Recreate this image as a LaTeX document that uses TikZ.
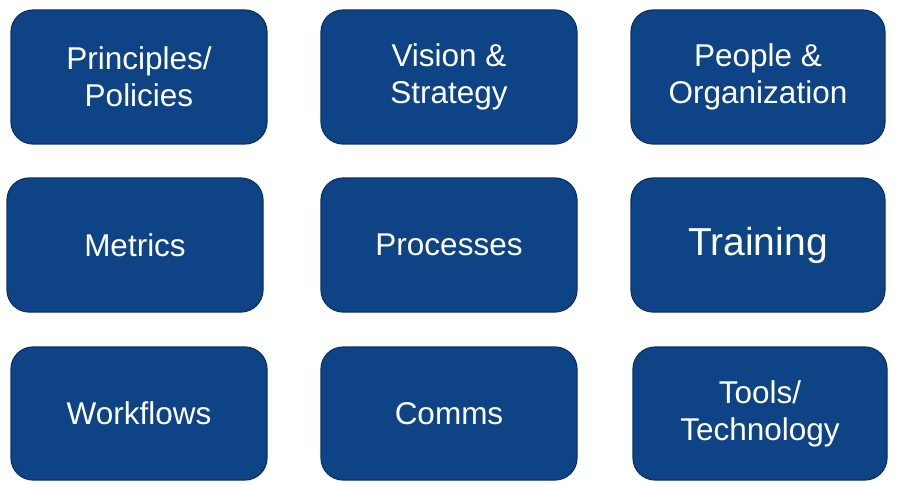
\documentclass[tikz,border=0pt]{standalone}
\usepackage{fontspec}
\setmainfont{Liberation Sans}
\begin{document}
\begin{tikzpicture}[x=1pt,y=-1pt,
  box/.style={draw=boxedge,line width=1.2pt,fill=boxblue,rounded corners=22pt,text=white,
    align=center,inner sep=0pt,font=\fontsize{31.5}{37}\selectfont}]
\definecolor{boxblue}{HTML}{0E4385}
\definecolor{boxedge}{HTML}{0A3366}
\useasboundingbox (0,0) rectangle (897,484);
\newcommand{\mybox}[6]{\node[box,minimum width=#3-#1,minimum height=#4-#2] (#5) at ({(#1+#3)/2},{(#2+#4)/2}) {#6};}
\mybox{11}{10}{267}{144}{pp}{Principles/\\Policies}
\mybox{321}{10}{577}{144}{vs}{Vision \&\\Strategy}
\mybox{631}{10}{885}{144}{po}{People \&\\Organization}
\mybox{7}{178}{263}{312}{me}{Metrics}
\mybox{321}{178}{577}{312}{pr}{Processes}
\node[box,minimum width=254,minimum height=134,font=\fontsize{39}{40}\selectfont] (tr) at (758,245) {Training};
\mybox{11}{347}{267}{480}{wf}{Workflows}
\mybox{321}{347}{577}{480}{co}{Comms}
\mybox{633}{347}{887}{480}{tt}{Tools/\\Technology}
\end{tikzpicture}
\end{document}
